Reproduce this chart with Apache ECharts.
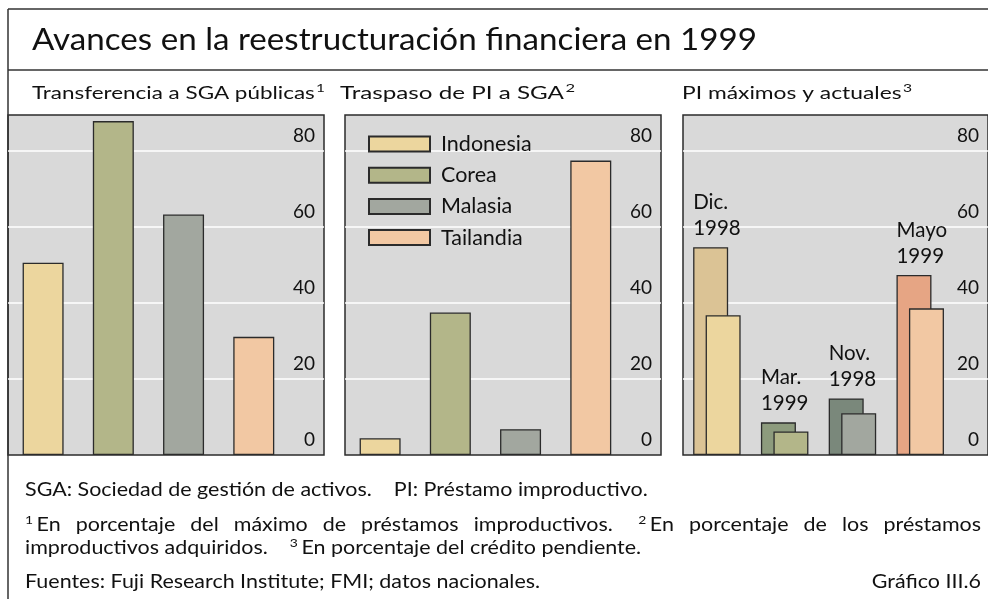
<!DOCTYPE html>
<html>
<head>
<meta charset="utf-8">
<script src="https://cdn.jsdelivr.net/npm/echarts@6/dist/echarts.min.js"></script>
<style>
html,body{margin:0;padding:0;background:#fff;}
#c{width:988px;height:599px;}
</style>
</head>
<body>
<div id="c"></div>
<script>
// ---- data ----
const countries = ['Indonesia', 'Corea', 'Malasia', 'Tailandia'];
const transferencia = [50.6, 87.9, 63.3, 31.1];   // % del máximo de PI
const traspaso = [4.4, 37.5, 6.8, 77.5];          // % de PI adquiridos
const piMaximo = [54.7, 8.6, 14.9, 47.4];         // % del crédito, máximo
const piActual = [36.8, 6.2, 11.0, 38.6];         // % del crédito, actual
const fechasMaximo = ['Dic.\n1998', 'Mar.\n1999', 'Nov.\n1998', 'Mayo\n1999'];
const yMin = 0, yMax = 89.5, yInterval = 20;

const titleText = 'Avances en la reestructuración financiera en 1999';
const panelTitles = ['Transferencia a SGA públicas', 'Traspaso de PI a SGA', 'PI máximos y actuales'];
const panelNotes = ['1', '2', '3'];
const note1 = 'SGA: Sociedad de gestión de activos.    PI: Préstamo improductivo.';
const note2Units = [{s: '1', t: 'En'}, 'porcentaje', 'del', 'máximo', 'de', 'préstamos', 'improductivos.',
  {s: '2', t: 'En'}, 'porcentaje', 'de', 'los', 'préstamos'];
const note3a = 'improductivos adquiridos.';
const note3b = 'En porcentaje del crédito pendiente.';
const sources = 'Fuentes: Fuji Research Institute; FMI; datos nacionales.';
const chartId = 'Gráfico III.6';

// ---- styles ----
const FONT = 'Lato, "Open Sans", sans-serif';
const countryColors = ['#ecd69e', '#b3b689', '#a2a79f', '#f2c8a3'];
const peakColors = ['#dbc395', '#8d9b7d', '#7a887b', '#e6a584'];
const edge = '#2b2b2b';
const INK = '#111';
const TOP = 115, H = 340;
const panels = [{left: 8, width: 316}, {left: 345, width: 316}, {left: 683, width: 316}];

const chart = echarts.init(document.getElementById('c'), null, {renderer: 'canvas'});

const grids = panels.map(p => ({
  left: p.left, top: TOP, width: p.width, height: H,
  show: true, backgroundColor: '#d9d9d9', borderColor: edge, borderWidth: 1.5,
  containLabel: false
}));
const xAxes = panels.map((p, i) => ({
  type: 'value', gridIndex: i, min: -0.5, max: 4.0, show: false
}));
const yAxes = panels.map((p, i) => ({
  type: 'value', gridIndex: i, position: 'right', min: yMin, max: yMax, interval: yInterval,
  axisLine: {show: false}, axisTick: {show: false},
  splitLine: {show: true, showMinLine: false, showMaxLine: false, lineStyle: {color: '#ffffff', width: 1.5}},
  axisLabel: {inside: true, margin: 9, fontSize: 19, fontFamily: FONT, color: INK,
    verticalAlign: 'bottom', lineHeight: 31, showMaxLabel: false}
}));

const series = [];
countries.forEach((c, i) => {
  series.push({
    type: 'bar', name: c, xAxisIndex: 0, yAxisIndex: 0, barWidth: 41, barGap: '-100%',
    data: [[i, transferencia[i]]],
    itemStyle: {color: countryColors[i], borderColor: edge, borderWidth: 1.3},
    silent: true
  });
});
countries.forEach((c, i) => {
  series.push({
    type: 'bar', name: c, xAxisIndex: 1, yAxisIndex: 1, barWidth: 41, barGap: '-100%',
    data: [[i, traspaso[i]]],
    itemStyle: {color: countryColors[i], borderColor: edge, borderWidth: 1.3},
    silent: true
  });
});
series.push({
  type: 'bar', name: 'Máximo', xAxisIndex: 2, yAxisIndex: 2, barWidth: 35, barGap: '-64.3%',
  data: piMaximo.map((v, i) => ({value: [i, v], itemStyle: {color: peakColors[i]}})),
  itemStyle: {borderColor: edge, borderWidth: 1.3},
  label: {show: true, position: [0, -6], align: 'left', verticalAlign: 'bottom',
    fontSize: 20.5, lineHeight: 26, fontFamily: FONT, color: INK,
    formatter: p => fechasMaximo[p.dataIndex]},
  silent: true
});
series.push({
  type: 'bar', name: 'Actual', xAxisIndex: 2, yAxisIndex: 2, barWidth: 35, barGap: '-64.3%',
  data: piActual.map((v, i) => ({value: [i, v], itemStyle: {color: countryColors[i]}})),
  itemStyle: {borderColor: edge, borderWidth: 1.3},
  silent: true
});

// ---- text helpers (reference type is horizontally stretched) ----
const mctx = document.createElement('canvas').getContext('2d');
function mw(t, size) { mctx.font = size + 'px ' + FONT; return mctx.measureText(t).width; }
function txt(t, x, y, size, sx, align) {
  return {type: 'text', x: x, y: y, scaleX: sx || 1, silent: true,
    style: {text: t, fontSize: size, fontFamily: FONT, fill: INK, verticalAlign: 'middle', align: align || 'left'}};
}
function fitted(t, x, y, size, right) {
  return txt(t, x, y, size, (right - x) / mw(t, size));
}
const SUP = 12;
function withSup(t, s, x, y, size, right) {
  const w = mw(t, size), ws = mw(s, SUP);
  const sx = (right - x) / (w + 1 + ws);
  return [txt(t, x, y, size, sx), txt(s, x + (w + 1) * sx, y - 5, SUP, sx)];
}
function justify(units, x0, x1, y, size, sx, bigGapAfter) {
  const widths = units.map(u => typeof u === 'string' ? mw(u, size) * sx : (mw(u.s, SUP) + 3 + mw(u.t, size)) * sx);
  const total = widths.reduce((a, b) => a + b, 0);
  let weights = 0;
  for (let i = 0; i < units.length - 1; i++) weights += (i === bigGapAfter ? 1.7 : 1);
  const g = (x1 - x0 - total) / weights;
  let x = x0;
  const out = [];
  units.forEach((u, i) => {
    if (typeof u === 'string') out.push(txt(u, x, y, size, sx));
    else {
      out.push(txt(u.s, x, y - 5, SUP, sx));
      out.push(txt(u.t, x + (mw(u.s, SUP) + 3) * sx, y, size, sx));
    }
    x += widths[i] + g * (i === bigGapAfter ? 1.7 : 1);
  });
  return out;
}

const FN = 18.5;
const fnSx = 1.16;
const n3aEnd = 25 + mw(note3a, FN) * fnSx;
const n3supX = n3aEnd + 22;
const n3bX = n3supX + (mw('3', SUP) + 3) * fnSx;
const lineStyle = {stroke: '#333', lineWidth: 1.5};
const graphic = [
  {type: 'line', shape: {x1: 8, y1: 9, x2: 988, y2: 9}, style: lineStyle, silent: true},
  {type: 'line', shape: {x1: 8, y1: 9, x2: 8, y2: 599}, style: lineStyle, silent: true},
  {type: 'line', shape: {x1: 8, y1: 70, x2: 988, y2: 70}, style: lineStyle, silent: true},
  fitted(titleText, 32, 40, 30, 757),
  ...withSup(panelTitles[0], panelNotes[0], 32, 93, 17.5, 325),
  ...withSup(panelTitles[1], panelNotes[1], 340, 93, 17.5, 575),
  ...withSup(panelTitles[2], panelNotes[2], 682, 93, 17.5, 912),
  txt(note1, 25, 490, FN, fnSx),
  ...justify(note2Units, 25, 981, 525.5, FN, fnSx, 6),
  txt(note3a, 25, 548.5, FN, fnSx),
  txt('3', n3supX, 543.5, SUP, fnSx),
  txt(note3b, n3bX, 548.5, FN, fnSx),
  txt(sources, 25, 582, FN, fnSx),
  txt(chartId, 981, 582, FN, fnSx, 'right')
];

chart.setOption({
  animation: false,
  backgroundColor: '#ffffff',
  grid: grids, xAxis: xAxes, yAxis: yAxes, series: series,
  legend: {
    data: countries, orient: 'vertical', left: 368, top: 133, padding: 0,
    itemWidth: 61, itemHeight: 15, itemGap: 9.2, selectedMode: false,
    icon: 'rect',
    textStyle: {fontSize: 21.5, lineHeight: 21, fontFamily: FONT, color: INK, padding: [0, 0, 0, 6]}
  },
  graphic: graphic
});
</script>
</body>
</html>
